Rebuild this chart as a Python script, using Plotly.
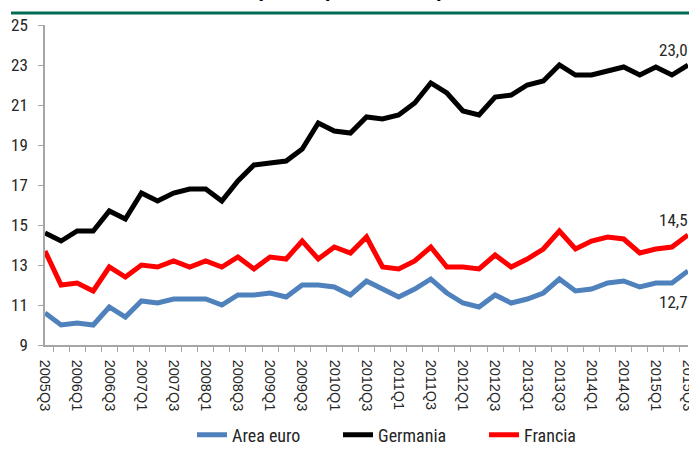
import plotly.graph_objects as go

# quarters 2005Q3 .. 2015Q3
quarters = [f"{y}Q{q}" for y in range(2005, 2016) for q in range(1, 5)][2:43]

area_euro = [10.6, 10.0, 10.1, 10.0, 10.9, 10.4, 11.2, 11.1, 11.3, 11.3,
             11.3, 11.0, 11.5, 11.5, 11.6, 11.4, 12.0, 12.0, 11.9, 11.5,
             12.2, 11.8, 11.4, 11.8, 12.3, 11.6, 11.1, 10.9, 11.5, 11.1,
             11.3, 11.6, 12.3, 11.7, 11.8, 12.1, 12.2, 11.9, 12.1, 12.1,
             12.7]
germania = [14.6, 14.2, 14.7, 14.7, 15.7, 15.3, 16.6, 16.2, 16.6, 16.8,
            16.8, 16.2, 17.2, 18.0, 18.1, 18.2, 18.8, 20.1, 19.7, 19.6,
            20.4, 20.3, 20.5, 21.1, 22.1, 21.6, 20.7, 20.5, 21.4, 21.5,
            22.0, 22.2, 23.0, 22.5, 22.5, 22.7, 22.9, 22.5, 22.9, 22.5,
            23.0]
francia = [13.7, 12.0, 12.1, 11.7, 12.9, 12.4, 13.0, 12.9, 13.2, 12.9,
           13.2, 12.9, 13.4, 12.8, 13.4, 13.3, 14.2, 13.3, 13.9, 13.6,
           14.4, 12.9, 12.8, 13.2, 13.9, 12.9, 12.9, 12.8, 13.5, 12.9,
           13.3, 13.8, 14.7, 13.8, 14.2, 14.4, 14.3, 13.6, 13.8, 13.9,
           14.5]

tick_text = [q if i % 2 == 0 else "" for i, q in enumerate(quarters)]

NARROW = "Liberation Sans Narrow, Arial Narrow, Roboto Condensed, Liberation Sans, sans-serif"
GREY = "#A6A6A6"
TXT = "#262626"
W, H = 689, 451
PLOT_W, PLOT_H = 643, 320

fig = go.Figure()
fig.add_trace(go.Scatter(x=quarters, y=area_euro, name="Area euro", mode="lines",
                         line=dict(color="#4F81BD", width=5)))
fig.add_trace(go.Scatter(x=quarters, y=germania, name="Germania", mode="lines",
                         line=dict(color="#000000", width=5)))
fig.add_trace(go.Scatter(x=quarters, y=francia, name="Francia", mode="lines",
                         line=dict(color="#FF0000", width=5)))

# end-of-series labels
annotations = []
for val, shift in [(germania[-1], 15), (francia[-1], 15), (area_euro[-1], -31)]:
    annotations.append(dict(x=1, xref="paper", y=val, yref="y", text=f"{val:.1f}".replace(".", ","),
                            showarrow=False, xanchor="right", yanchor="middle", xshift=2, yshift=shift,
                            font=dict(family=NARROW, size=17, color=TXT)))
# title, cut off at the top of the picture
annotations.append(dict(x=(350 - 45) / PLOT_W, xref="paper", y=1, yref="paper",
                        text="<b>(valori percentuali)</b>", showarrow=False,
                        xanchor="center", yanchor="bottom", yshift=22,
                        font=dict(family="Liberation Sans, Arial, sans-serif", size=21, color="#000000")))

fig.update_layout(
    width=W, height=H,
    margin=dict(l=45, r=1, t=25, b=106, autoexpand=False),
    paper_bgcolor="white", plot_bgcolor="white",
    showlegend=True,
    legend=dict(orientation="h", xref="container", yref="container",
                x=192 / W, xanchor="left", y=1 - 435 / H, yanchor="middle",
                font=dict(family=NARROW, size=18, color=TXT),
                itemwidth=30, entrywidth=101, tracegroupgap=0),
    annotations=annotations,
    shapes=[dict(type="line", xref="paper", yref="paper", x0=-34 / PLOT_W, x1=1.01,
                 y0=1 + 12 / PLOT_H, y1=1 + 12 / PLOT_H,
                 line=dict(color="#006B54", width=3))],
    xaxis=dict(type="category", tickmode="array", tickvals=quarters, ticktext=tick_text,
               tickangle=90, tickson="boundaries", ticks="outside", ticklen=5,
               tickcolor=GREY, showline=True, linecolor=GREY, linewidth=1.5,
               showgrid=False, zeroline=False, ticklabelstandoff=10,
               tickfont=dict(family="Liberation Sans, Arial, sans-serif", size=14.5, color=TXT)),
    yaxis=dict(range=[9, 25], tick0=9, dtick=2, ticks="outside", ticklen=5,
               tickcolor=GREY, showline=True, linecolor=GREY, linewidth=1.5,
               showgrid=False, zeroline=False, ticklabelstandoff=7,
               tickfont=dict(family=NARROW, size=17, color=TXT)),
)

# page has a default 8px body margin; remove it so the figure sits at the window corner
fig.write_html("out.html", config={"displayModeBar": False},
               post_script="document.body.style.margin='0';")
